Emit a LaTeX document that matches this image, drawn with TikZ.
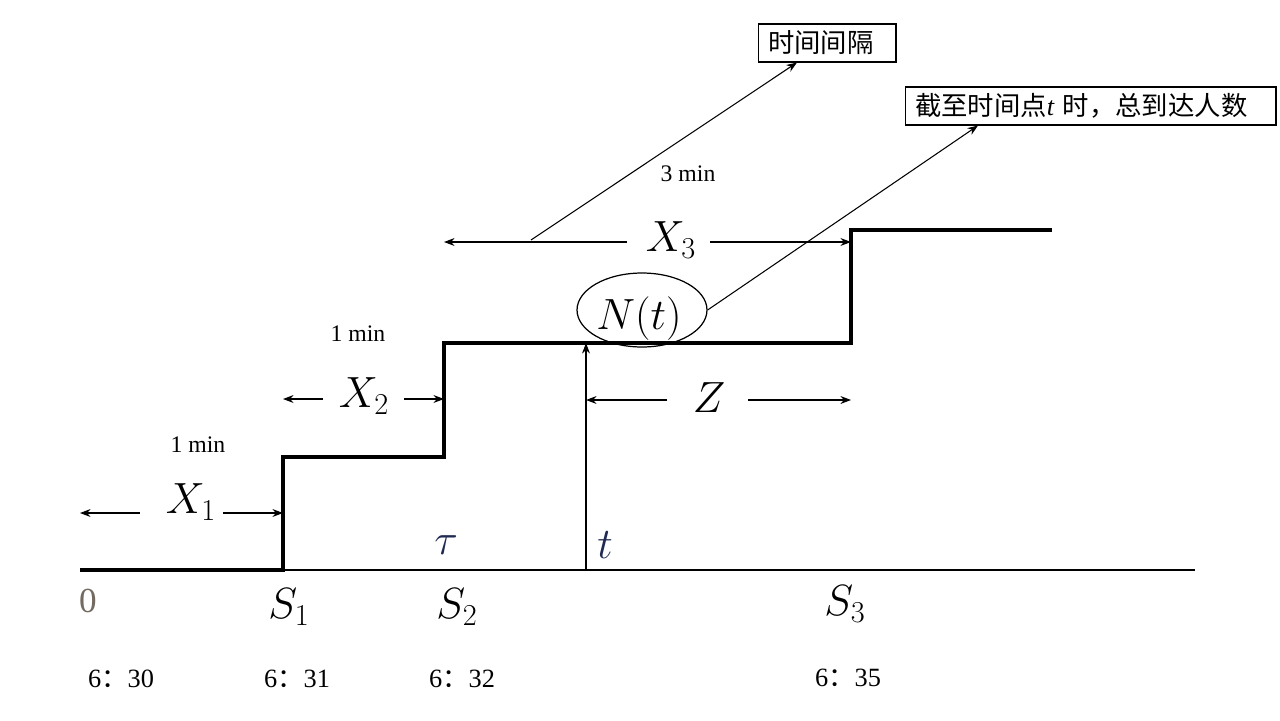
\documentclass[tikz,border=0pt]{standalone}
\usepackage{fontspec}
\setmainfont{Liberation Serif}
\newfontfamily\cjk{Noto Sans CJK SC}
\usetikzlibrary{arrows.meta,positioning,shapes.geometric}
\DeclareMathSizes{25}{25}{19}{14}
\definecolor{zerogray}{rgb}{0.45,0.42,0.38}
\definecolor{taunavy}{rgb}{0.12,0.16,0.32}
\begin{document}
\begin{tikzpicture}[x=0.02cm,y=-0.02cm,line join=miter,
  stair/.style={line width=2.5pt},
  dimarrow/.style={line width=0.6pt,-{Stealth[length=6pt,width=4.5pt]}},
  mlabel/.style={font=\fontsize{25}{30}\selectfont,inner sep=0pt},
  minlabel/.style={font=\fontsize{13.5}{16}\selectfont,inner sep=0pt},
  clocklabel/.style={font=\fontsize{15}{18}\selectfont,inner sep=0pt},
  notebox/.style={draw,line width=0.6pt,minimum height=0.76cm,inner xsep=0.2cm,
    inner ysep=0pt,align=left,font=\cjk\fontsize{15}{18}\selectfont}]
  \useasboundingbox (0,0) rectangle (1280,720);
  % axis and counting steps
  \coordinate (O) at (80,570);
  \coordinate (E) at (1195,570);
  \coordinate (S1) at (283,570);
  \coordinate (S2) at (444,570);
  \coordinate (S3) at (851,570);
  \coordinate (T) at (586,570);
  \draw[line width=0.8pt] (O) -- (E);
  \draw[stair] (O) -- (S1) -- (283,457) -- (444,457) -- (444,343)
    -- (851,343) -- (851,230) -- (1052,230);
  \coordinate (NT) at (586,343);
  \draw[dimarrow] (T) -- (NT);
  % axis labels
  \node[mlabel,text=zerogray,font=\rmfamily\fontsize{20}{24}\selectfont] (zero) at (88,601) {0};
  \node[mlabel] (s1) at (289,607) {$S_1$};
  \node[mlabel] (s2) at (457,607) {$S_2$};
  \node[mlabel] (s3) at (845,604) {$S_3$};
  \node[mlabel,text=taunavy,font=\fontsize{26}{30}\selectfont] (tau) at (446,545) {$\tau$};
  \node[mlabel,text=taunavy,font=\fontsize{24}{30}\selectfont] (tt) at (605,545) {$t$};
  \node[clocklabel] (c0) at (121,679) {6{\cjk ：}30};
  \node[clocklabel] (c1) at (297,679) {6{\cjk ：}31};
  \node[clocklabel] (c2) at (462,679) {6{\cjk ：}32};
  \node[clocklabel] (c3) at (848,678) {6{\cjk ：}35};
  % interval X1
  \node[mlabel] (x1) at (191,502) {$X_1$};
  \coordinate (X1l) at (140,513);
  \coordinate (X1r) at (223,513);
  \draw[dimarrow] (X1l) -- (O |- X1l);
  \draw[dimarrow] (X1r) -- (S1 |- X1r);
  \node[minlabel] (m1) at (198,445) {1 min};
  % interval X2
  \node[mlabel] (x2) at (364,396) {$X_2$};
  \coordinate (X2l) at (323,399);
  \coordinate (X2r) at (404,399);
  \draw[dimarrow] (X2l) -- (S1 |- X2l);
  \draw[dimarrow] (X2r) -- (S2 |- X2r);
  \node[minlabel] (m2) at (358,334) {1 min};
  % interval X3
  \node[mlabel] (x3) at (671,240) {$X_3$};
  \coordinate (X3l) at (627,242);
  \coordinate (X3r) at (710,242);
  \draw[dimarrow] (X3l) -- (S2 |- X3l);
  \draw[dimarrow] (X3r) -- (S3 |- X3r);
  \node[minlabel] (m3) at (688,174) {3 min};
  % residual Z
  \node[mlabel] (z) at (709,398) {$Z$};
  \coordinate (Zl) at (667,400);
  \coordinate (Zr) at (748,400);
  \draw[dimarrow] (Zl) -- (T |- Zl);
  \draw[dimarrow] (Zr) -- (S3 |- Zr);
  % N(t)
  \node[ellipse,draw,line width=0.7pt,minimum width=2.6cm,minimum height=1.48cm] (nt) at (642,310) {};
  \node[mlabel] (ntlabel) at (639,319) {$N(t)$};
  % notes
  \node[notebox,text width=2.36cm] (gap) at (827,43) {时间间隔};
  \node[notebox,text width=7.02cm] (count) at (1090.5,106) {截至时间点{\rmfamily\itshape t} 时，总到达人数};
  \coordinate (G) at (531,240);
  \draw[dimarrow] (G) -- ([xshift=-0.6cm]gap.south);
  \draw[dimarrow] (nt.east) -- ([xshift=-2.25cm]count.south);
\end{tikzpicture}
\end{document}
